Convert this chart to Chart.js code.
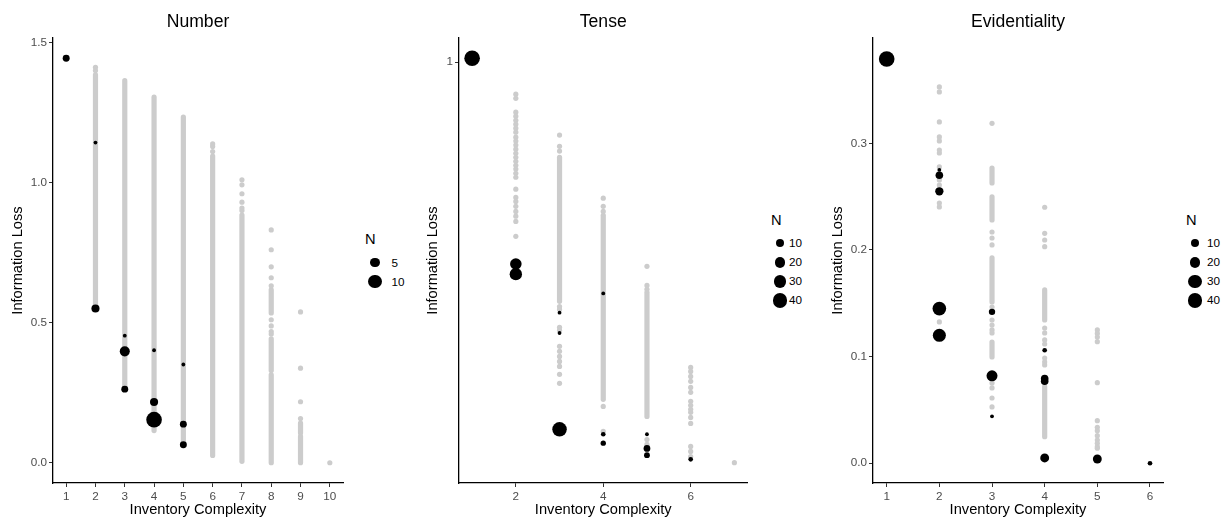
<!DOCTYPE html>
<html>
<head>
<meta charset="utf-8">
<title>Information Loss vs Inventory Complexity</title>
<script src="https://cdn.jsdelivr.net/npm/chart.js@4.4.1/dist/chart.umd.min.js"></script>
<style>
  html, body { margin: 0; padding: 0; background: #ffffff; }
  body { width: 1225px; height: 518px; position: relative; overflow: hidden;
         font-family: "Liberation Sans", Arial, Helvetica, sans-serif; }
  canvas { position: absolute; top: 0; }
  .ptitle { position: absolute; top: 11px; height: 20px; line-height: 20px; text-align: center;
            font-size: 17.6px; color: #000; white-space: nowrap; }
  .lg-title { position: absolute; font-size: 14.67px; line-height: 16px; height: 16px; color: #000; }
  .lg-dot { position: absolute; background: #000; border-radius: 50%; }
  .lg-label { position: absolute; font-size: 11.7px; line-height: 14px; height: 14px; color: #000;
              white-space: nowrap; -webkit-font-smoothing: antialiased; }
</style>
</head>
<body>
<canvas id="cNumber" width="355" height="518" style="left:0px;width:355px;height:518px"></canvas>
<canvas id="cTense" width="345" height="518" style="left:415px;width:345px;height:518px"></canvas>
<canvas id="cEvid" width="355" height="518" style="left:820px;width:355px;height:518px"></canvas>
<div id="overlay"></div>
<script>
// ---------- Number ----------
const numberXTicks = [1, 2, 3, 4, 5, 6, 7, 8, 9, 10];
const numberYTicks = [0, 0.5, 1, 1.5];
const numberYTickLabels = ['0.0', '0.5', '1.0', '1.5'];
// dense stretches of simulated inventories (low / high end of each stretch)
const numberRunX  = [2, 3, 4, 5, 6, 7, 8, 8, 8, 9, 9];
const numberRunLo = [0.551, 0.263, 0.115, 0.062, 0.026, 0.005, 0.000, 0.330, 0.535, 0.000, 0.106];
const numberRunHi = [1.386, 1.365, 1.306, 1.235, 1.096, 0.885, 0.314, 0.443, 0.618, 0.094, 0.142];
// isolated simulated inventories
const numberGreyX = [2, 2, 6, 6, 6, 7, 7, 7, 7, 7, 7, 8, 8, 8, 8, 8, 8, 8, 8, 8, 9, 9, 9, 9, 10];
const numberGreyY = [1.413, 1.401, 1.139, 1.130, 1.112, 1.011, 0.993, 0.961, 0.931, 0.910, 0.901,
                     0.832, 0.761, 0.700, 0.661, 0.632, 0.511, 0.489, 0.469, 0.460,
                     0.539, 0.338, 0.218, 0.158, 0.000];
// attested inventories, N = number of languages
const numberBlackX = [1, 2, 2, 3, 3, 3, 4, 4, 4, 5, 5, 5];
const numberBlackY = [1.445, 1.144, 0.551, 0.454, 0.398, 0.263, 0.402, 0.217, 0.154, 0.351, 0.138, 0.064];
const numberBlackN = [3, 1, 4, 1, 6, 3, 1, 4, 14, 1, 3, 3];
const numberNRange = [1, 14];
const numberLegendN = [5, 10];

// ---------- Tense ----------
const tenseXTicks = [2, 4, 6];
const tenseYTicks = [1];
const tenseYTickLabels = ['1'];
const tenseRunX  = [3, 4, 5];
const tenseRunLo = [0.3177, 0.1986, 0.1830];
const tenseRunHi = [0.634, 0.480, 0.3318];
const tenseGreyX = [
  2, 2, 2, 2, 2, 2, 2, 2, 2, 2, 2, 2, 2, 2, 2, 2, 2, 2, 2, 2, 2, 2, 2, 2, 2, 2, 2,
  3, 3, 3, 3, 3, 3, 3, 3, 3, 3, 3, 3, 3, 3,
  4, 4, 4, 4, 4,
  5, 5, 5, 5, 5,
  6, 6, 6, 6, 6, 6, 6, 6, 6, 6, 6, 6, 6, 6, 6,
  7];
const tenseGreyY = [
  0.858, 0.841, 0.787, 0.772, 0.757, 0.743, 0.729, 0.715, 0.698, 0.685, 0.672, 0.659, 0.646, 0.634,
  0.622, 0.610, 0.599, 0.587, 0.576, 0.544, 0.523, 0.513, 0.501, 0.489, 0.478, 0.466, 0.434,
  0.705, 0.668, 0.653, 0.310, 0.3056, 0.2805, 0.2765, 0.2561, 0.2500, 0.2440, 0.2382, 0.2326, 0.2239, 0.2145,
  0.521, 0.501, 0.489, 0.1920, 0.1703,
  0.3758, 0.343, 0.3366, 0.1638, 0.1600,
  0.2315, 0.2271, 0.2217, 0.2165, 0.2103, 0.2054, 0.1967, 0.1930, 0.1893, 0.1866, 0.1821, 0.1770,
  0.1585, 0.1547, 0.1510,
  0.1466];
const tenseBlackX = [1, 2, 2, 3, 3, 3, 4, 4, 4, 5, 5, 5, 6];
const tenseBlackY = [1.019, 0.380, 0.362, 0.301, 0.273, 0.172, 0.330, 0.168, 0.161, 0.168, 0.157, 0.152, 0.149];
const tenseBlackN = [46, 23, 27, 1, 1, 39, 1, 2, 3, 1, 6, 4, 2];
const tenseNRange = [1, 46];
const tenseLegendN = [10, 20, 30, 40];

// ---------- Evidentiality ----------
const evidXTicks = [1, 2, 3, 4, 5, 6];
const evidYTicks = [0, 0.1, 0.2, 0.3];
const evidYTickLabels = ['0.0', '0.1', '0.2', '0.3'];
const evidRunX  = [3, 3, 3, 3, 4, 4];
const evidRunLo = [0.2628, 0.2281, 0.1512, 0.0997, 0.1343, 0.0249];
const evidRunHi = [0.2768, 0.2497, 0.1925, 0.1137, 0.1625, 0.0718];
const evidGreyX = [
  2, 2, 2, 2, 2, 2, 2, 2, 2, 2, 2, 2, 2,
  3, 3, 3, 3, 3, 3, 3, 3, 3, 3, 3, 3, 3,
  4, 4, 4, 4, 4, 4, 4, 4, 4, 4, 4,
  5, 5, 5, 5, 5, 5, 5, 5, 5, 5, 5, 5, 5];
const evidGreyY = [
  0.3528, 0.3481, 0.3200, 0.3060, 0.3022, 0.2937, 0.2909, 0.2778, 0.2656, 0.2609, 0.2440, 0.2403, 0.1325,
  0.3187, 0.2168, 0.2112, 0.2047, 0.1465, 0.1343, 0.1296, 0.1250, 0.1222, 0.0753, 0.0706, 0.0612, 0.0528,
  0.2400, 0.2156, 0.2093, 0.2031, 0.1268, 0.1222, 0.1156, 0.1118, 0.0987, 0.0950, 0.0922,
  0.1250, 0.1217, 0.1184, 0.1140, 0.0756, 0.0399, 0.0337, 0.0306, 0.0259, 0.0218, 0.0187, 0.0156, 0.0141];
const evidBlackX = [1, 2, 2, 2, 2, 2, 3, 3, 3, 4, 4, 4, 4, 5, 6];
const evidBlackY = [0.379, 0.275, 0.270, 0.255, 0.145, 0.120, 0.142, 0.082, 0.044, 0.106, 0.0795, 0.0770, 0.005, 0.004, 0.000];
const evidBlackN = [45, 1, 8, 10, 33, 30, 5, 20, 1, 2, 8, 8, 12, 12, 2];
const evidNRange = [1, 45];
const evidLegendN = [10, 20, 30, 40];

// ---------- drawing ----------
const FONT = "'Liberation Sans', Arial, Helvetica, sans-serif";
const GREY = '#CCCCCC';
const R_MIN = 1.9, R_MAX = 7.8;   // point radius for the smallest / largest N

function sizeRadius(n, range) {
  const a = Math.sqrt(range[0]), b = Math.sqrt(range[1]);
  return R_MIN + (R_MAX - R_MIN) * (Math.sqrt(n) - a) / (b - a);
}

function buildDatasets(p) {
  const ds = [];
  p.runX.forEach((x, i) => {
    ds.push({
      data: [{ x: x, y: p.runLo[i] }, { x: x, y: p.runHi[i] }],
      showLine: true, borderColor: GREY, borderWidth: 5.2, borderCapStyle: 'round',
      pointRadius: 0, pointHoverRadius: 0, fill: false, order: 3
    });
  });
  ds.push({
    data: p.greyX.map((x, i) => ({ x: x, y: p.greyY[i] })),
    backgroundColor: GREY, borderWidth: 0, pointRadius: 2.6, order: 2
  });
  ds.push({
    data: p.blackX.map((x, i) => ({ x: x, y: p.blackY[i] })),
    backgroundColor: '#000000', borderWidth: 0,
    pointRadius: p.blackN.map(n => sizeRadius(n, p.nRange)), order: 1
  });
  return ds;
}

function axisCommon() {
  return {
    grid: { display: true, drawOnChartArea: false, drawTicks: true, tickLength: 4,
            color: '#333333', lineWidth: 1 },
    border: { display: true, color: '#000000', width: 1.3 }
  };
}

function makePanel(p) {
  const ax = axisCommon(), ay = axisCommon();
  new Chart(document.getElementById(p.canvas), {
    type: 'scatter',
    data: { datasets: buildDatasets(p) },
    options: {
      responsive: false, animation: false, events: [],
      layout: { padding: { top: 38, left: 0, right: p.padRight, bottom: 0 } },
      plugins: { legend: { display: false }, tooltip: { enabled: false }, title: { display: false } },
      scales: {
        x: {
          type: 'linear', min: p.xMin, max: p.xMax,
          afterBuildTicks: s => { s.ticks = p.xTicks.map(v => ({ value: v })); },
          ticks: { color: '#4D4D4D', font: { family: FONT, size: 11.7 }, padding: 3,
                   maxRotation: 0, autoSkip: false, callback: v => String(v) },
          grid: ax.grid, border: ax.border,
          title: { display: true, text: 'Inventory Complexity', color: '#000000',
                   font: { family: FONT, size: 14.67 }, padding: { top: 0, bottom: -1 } },
          afterFit: s => { s.height = 35; s.paddingLeft = 0; s.paddingRight = 0; }
        },
        y: {
          type: p.yType, min: p.yMin, max: p.yMax,
          afterBuildTicks: s => { s.ticks = p.yTicks.map(v => ({ value: v })); },
          ticks: { color: '#4D4D4D', font: { family: FONT, size: 11.7 }, padding: 2,
                   autoSkip: false, callback: (v, i) => p.yTickLabels[i] },
          grid: ay.grid, border: ay.border,
          title: { display: true, text: 'Information Loss', color: '#000000',
                   font: { family: FONT, size: 14.67 }, padding: { top: 9.5, bottom: 0 } },
          afterFit: s => { s.width = p.yWidth; s.paddingTop = 0; s.paddingBottom = 0; }
        }
      }
    }
  });
}

function addTitle(text, left, width) {
  const d = document.createElement('div');
  d.className = 'ptitle';
  d.style.left = left + 'px';
  d.style.width = width + 'px';
  d.textContent = text;
  document.getElementById('overlay').appendChild(d);
}

function addLegend(lg) {
  const ov = document.getElementById('overlay');
  const t = document.createElement('div');
  t.className = 'lg-title';
  t.style.left = lg.titleLeft + 'px';
  t.style.top = (lg.titleY - 8) + 'px';
  t.textContent = 'N';
  ov.appendChild(t);
  lg.values.forEach((n, i) => {
    const cy = lg.y0 + i * 19;
    const r = sizeRadius(n, lg.nRange);
    const c = document.createElement('div');
    c.className = 'lg-dot';
    c.style.left = (lg.cx - r) + 'px';
    c.style.top = (cy - r) + 'px';
    c.style.width = (2 * r) + 'px';
    c.style.height = (2 * r) + 'px';
    ov.appendChild(c);
    const l = document.createElement('div');
    l.className = 'lg-label';
    l.style.left = lg.labelLeft + 'px';
    l.style.top = (cy - 7) + 'px';
    l.textContent = String(n);
    ov.appendChild(l);
  });
}

makePanel({
  canvas: 'cNumber', padRight: 12, yWidth: 53, yType: 'linear',
  xMin: 0.55, xMax: 10.45, yMin: -0.0723, yMax: 1.5175,
  xTicks: numberXTicks, yTicks: numberYTicks, yTickLabels: numberYTickLabels,
  runX: numberRunX, runLo: numberRunLo, runHi: numberRunHi,
  greyX: numberGreyX, greyY: numberGreyY,
  blackX: numberBlackX, blackY: numberBlackY, blackN: numberBlackN, nRange: numberNRange
});
makePanel({
  canvas: 'cTense', padRight: 12.5, yWidth: 44, yType: 'logarithmic',
  xMin: 0.7, xMax: 7.3, yMin: 0.1330, yMax: 1.123,
  xTicks: tenseXTicks, yTicks: tenseYTicks, yTickLabels: tenseYTickLabels,
  runX: tenseRunX, runLo: tenseRunLo, runHi: tenseRunHi,
  greyX: tenseGreyX, greyY: tenseGreyY,
  blackX: tenseBlackX, blackY: tenseBlackY, blackN: tenseBlackN, nRange: tenseNRange
});
makePanel({
  canvas: 'cEvid', padRight: 12, yWidth: 53, yType: 'linear',
  xMin: 0.74, xMax: 6.247, yMin: -0.0185, yMax: 0.3987,
  xTicks: evidXTicks, yTicks: evidYTicks, yTickLabels: evidYTickLabels,
  runX: evidRunX, runLo: evidRunLo, runHi: evidRunHi,
  greyX: evidGreyX, greyY: evidGreyY,
  blackX: evidBlackX, blackY: evidBlackY, blackN: evidBlackN, nRange: evidNRange
});

addTitle('Number', 53, 290);
addTitle('Tense', 459, 288.5);
addTitle('Evidentiality', 873, 290);

addLegend({ titleLeft: 365, titleY: 238.5, cx: 375, y0: 262.7, labelLeft: 391.5,
            values: numberLegendN, nRange: numberNRange });
addLegend({ titleLeft: 771, titleY: 220, cx: 780, y0: 243.3, labelLeft: 789,
            values: tenseLegendN, nRange: tenseNRange });
addLegend({ titleLeft: 1186, titleY: 220, cx: 1195, y0: 243.3, labelLeft: 1207,
            values: evidLegendN, nRange: evidNRange });
</script>
</body>
</html>
